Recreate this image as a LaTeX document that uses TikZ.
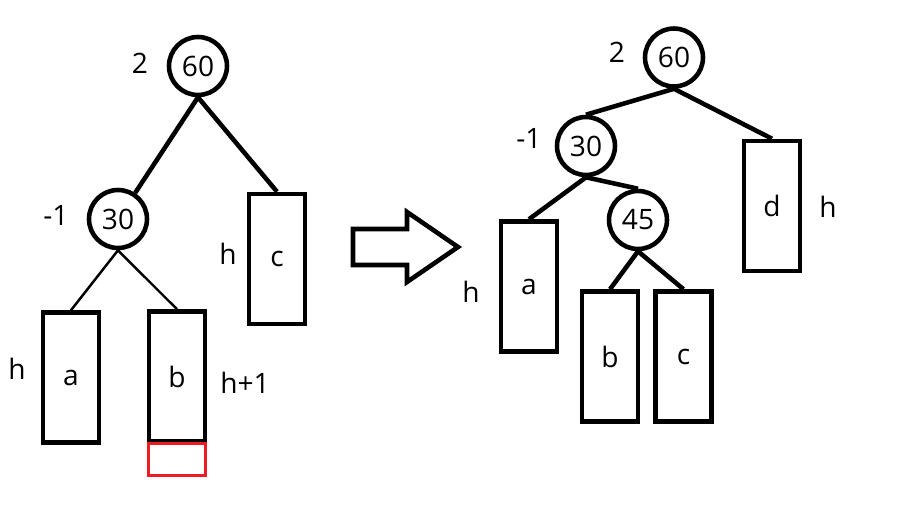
\documentclass[tikz,border=0pt]{standalone}
\usepackage{fontspec}
\setmainfont{Open Sans}
\usetikzlibrary{positioning}
\definecolor{paintred}{HTML}{ED1C24}
\tikzset{
  key/.style={circle,draw,line width=2.6pt,minimum size=1.16cm,inner sep=0pt,font=\fontsize{16}{19}\selectfont},
  sub/.style={rectangle,draw,line width=2.6pt,minimum width=1.12cm,minimum height=2.6cm,inner sep=0pt,font=\fontsize{16}{19}\selectfont},
  branch/.style={line width=2.6pt},
  twig/.style={line width=1.4pt},
  lab/.style={inner sep=0pt,font=\fontsize{16}{19}\selectfont},
  newlvl/.style={rectangle,draw=paintred,line width=2.2pt,minimum width=1.14cm,minimum height=0.64cm,inner sep=0pt},
}
\begin{document}
\begin{tikzpicture}[x=0.02cm,y=-0.02cm]
  \useasboundingbox (0,0) rectangle (913,511);
  % before rotation
  \node[key] (l60) at (198,66) {60};
  \node[key] (l30) at (118,219) {30};
  \node[sub] (la) at (71,377.5) {a};
  \node[sub] (lb) at (177,376.5) {b};
  \node[sub] (lc) at (277,259) {c};
  \node[newlvl] (lnew) at (177,459.5) {};
  \draw[branch] (l60.south) -- (l30);
  \draw[branch] (l60.south) -- (lc.north);
  \draw[twig] (l30.south) -- (la.north);
  \draw[twig] (l30.south) -- (lb.north);
  \node[lab] (bf60) at (140,63) {2};
  \node[lab] (bf30) at (56,215) {-1};
  \node[lab] (ha) at (17,369) {h};
  \node[lab] (hb) at (245,383) {h+1};
  \node[lab] (hc) at (228,254) {h};
  % arrow
  \draw[line width=2.6pt,line join=miter] (353,229) -- (407,229) -- (407,212) -- (458,247)
    -- (407,282) -- (407,265) -- (353,265) -- cycle;
  % after rotation
  \node[key] (r60) at (674,57.5) {60};
  \node[key] (r30) at (586,146) {30};
  \node[key] (r45) at (638,220) {45};
  \node[sub] (ra) at (529,286.5) {a};
  \node[sub] (rb) at (610,356.5) {b};
  \node[sub] (rc) at (683.5,356.5) {c};
  \node[sub] (rd) at (772,206) {d};
  \draw[branch] (r60.south) -- (r30.north);
  \draw[branch] (r60.south) -- (rd.north);
  \draw[branch] (r30.south) -- (ra.north);
  \draw[branch] (r30.south) -- (r45.north);
  \draw[branch] (r45.south) -- (rb.north);
  \draw[branch] (r45.south) -- (rc.north);
  \node[lab] (af60) at (617,52) {2};
  \node[lab] (af30) at (529,138) {-1};
  \node[lab] (ha2) at (471,292) {h};
  \node[lab] (hd) at (828,207) {h};
\end{tikzpicture}
\end{document}
